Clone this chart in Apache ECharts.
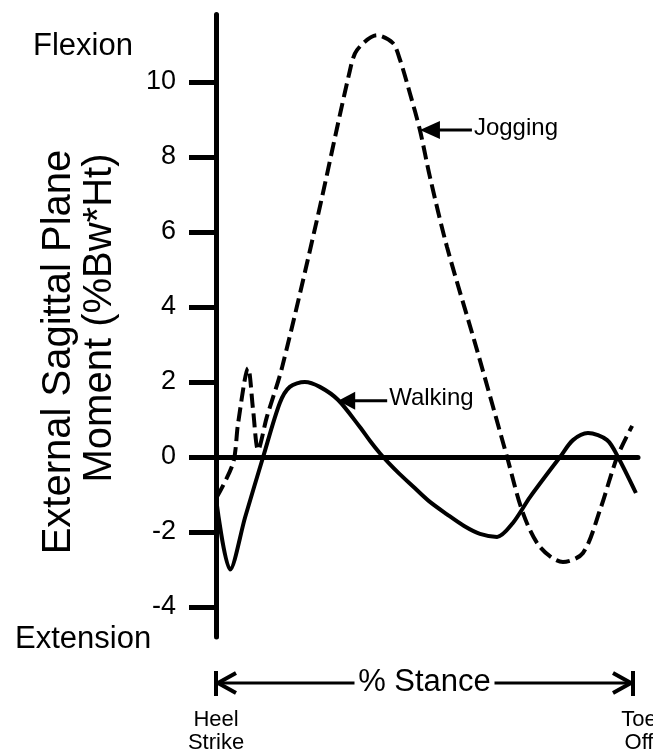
<!DOCTYPE html>
<html><head><meta charset="utf-8">
<script src="https://cdn.jsdelivr.net/npm/echarts@6.0.0/dist/echarts.min.js"></script>
<style>html,body{margin:0;padding:0;background:#fff}#c{width:653px;height:752px}</style>
</head><body><div id="c"></div>
<script>
// % stance (0 = heel strike, 100 = toe off)
const walkStance = [0, 3.4, 7, 11.3, 15.3, 17.7, 21.3, 24.9, 29.3, 34.5, 37, 39.3, 41.5, 44, 47.2, 51, 55.4, 59.5, 63.3, 67.4, 71.2, 75.3, 82.5, 85.6, 89.2, 93.8, 96.4, 100.7];
const walkMoment = [-1.1, -3.0, -1.6, 0, 1.44, 1.87, 2.0, 1.87, 1.52, 0.8, 0.42, 0.1, -0.17, -0.45, -0.78, -1.17, -1.53, -1.84, -2.05, -2.13, -1.76, -1.07, 0, 0.45, 0.64, 0.45, 0, -0.96];
const jogStance = [0.2, 4.1, 5.3, 7.7, 8.9, 10.1, 12.2, 15.8, 24.2, 32.1, 33.8, 38.6, 42.4, 44.1, 46.5, 48.9, 51.3, 55.4, 62.6, 69.8, 73.6, 77.7, 83.2, 88, 92.1, 96.2, 99.8];
const jogMoment = [-1.07, -0.16, 0.9, 2.37, 1.25, 0.19, 1.07, 2.37, 6.32, 10.3, 10.85, 11.25, 11.04, 10.6, 9.7, 8.72, 7.47, 5.6, 2.85, 0, -1.49, -2.4, -2.8, -2.56, -1.41, 0, 0.83];
const yTicks = [-4, -2, 0, 2, 4, 6, 8, 10];
const yTitleLines = ['External Sagittal Plane', 'Moment (%Bw*Ht)'];
const seriesNames = ['Walking', 'Jogging'];
const walkLabelAt = [29.3, 1.5];
const jogLabelAt = [48.9, 8.72];
const xLabels = ['Heel\nStrike', 'Toe\nOff'];
const xName = '% Stance';
const topLabel = 'Flexion';
const bottomLabel = 'Extension';

const FONT = '"Liberation Sans", Arial, Helvetica, sans-serif';
const chart = echarts.init(document.getElementById('c'));
const zip = (a, b) => a.map((v, i) => [v, b[i]]);

chart.setOption({
  animation: false,
  backgroundColor: '#fff',
  grid: {left: 216, top: 14.5, width: 422, height: 622.5, containLabel: false},
  xAxis: {
    type: 'value', min: 0, max: 101.2,
    axisLine: {show: true, onZero: true, lineStyle: {color: '#000', width: 5}},
    axisTick: {show: false}, axisLabel: {show: false}, splitLine: {show: false}
  },
  yAxis: {
    type: 'value', min: -4.8, max: 11.8,
    axisLine: {show: true, onZero: false, lineStyle: {color: '#000', width: 5}},
    axisTick: {show: true, customValues: yTicks, length: 27, lineStyle: {color: '#000', width: 5}},
    axisLabel: {show: true, customValues: yTicks, margin: 40, color: '#000', fontSize: 27, fontFamily: FONT},
    splitLine: {show: false}
  },
  series: [
    {name: seriesNames[0], type: 'line', data: zip(walkStance, walkMoment), showSymbol: false, smooth: 0.3,
     lineStyle: {color: '#000', width: 4}, clip: false, z: 3},
    {name: seriesNames[1], type: 'line', data: zip(jogStance, jogMoment), showSymbol: false, smooth: 0.3,
     lineStyle: {color: '#000', width: 4, type: [14, 6]}, clip: false, z: 3}
  ]
});

function px(x, y) { return chart.convertToPixel({gridIndex: 0}, [x, y]); }
function arrowLabel(at, text, headLen, shaftEnd) {
  const p = px(at[0], at[1]);
  return [
    {type: 'polygon', shape: {points: [[p[0], p[1]], [p[0] + headLen, p[1] - 9], [p[0] + headLen, p[1] + 9]]}, style: {fill: '#000'}, z: 10},
    {type: 'line', shape: {x1: p[0] + headLen - 2, y1: p[1], x2: p[0] + shaftEnd, y2: p[1]}, style: {stroke: '#000', lineWidth: 3}, z: 10},
    {type: 'text', x: p[0] + shaftEnd + 2, y: p[1] - 2, style: {text: text, font: '24px ' + FONT, fill: '#000', textAlign: 'left', textVerticalAlign: 'middle'}, z: 10}
  ];
}
const x0 = px(0, 0)[0], x100 = px(100, 0)[0];
const gBottom = px(0, -4.8)[1];
const ay = gBottom + 46;
const mid = (x0 + x100) / 2;
const g = [];
g.push(...arrowLabel(jogLabelAt, seriesNames[1], 20, 52));
g.push(...arrowLabel(walkLabelAt, seriesNames[0], 17, 49));
// stance arrow
g.push({type: 'line', shape: {x1: x0, y1: ay - 12, x2: x0, y2: ay + 13}, style: {stroke: '#000', lineWidth: 4}});
g.push({type: 'line', shape: {x1: x100, y1: ay - 12, x2: x100, y2: ay + 13}, style: {stroke: '#000', lineWidth: 4}});
g.push({type: 'polyline', shape: {points: [[x0 + 20, ay - 10], [x0 + 2, ay], [x0 + 20, ay + 10]]}, style: {stroke: '#000', lineWidth: 4, fill: null}});
g.push({type: 'polyline', shape: {points: [[x100 - 20, ay - 10], [x100 - 2, ay], [x100 - 20, ay + 10]]}, style: {stroke: '#000', lineWidth: 4, fill: null}});
g.push({type: 'line', shape: {x1: x0, y1: ay, x2: mid - 70, y2: ay}, style: {stroke: '#000', lineWidth: 3}});
g.push({type: 'line', shape: {x1: mid + 70, y1: ay, x2: x100, y2: ay}, style: {stroke: '#000', lineWidth: 3}});
g.push({type: 'text', x: mid, y: ay - 1, style: {text: xName, font: '31px ' + FONT, fill: '#000', textAlign: 'center', textVerticalAlign: 'middle'}});
g.push({type: 'text', x: x0, y: gBottom + 94, style: {text: xLabels[0], font: '22px ' + FONT, lineHeight: 23, fill: '#000', textAlign: 'center', textVerticalAlign: 'middle'}});
g.push({type: 'text', x: x100 + 6, y: gBottom + 94, style: {text: xLabels[1], font: '22px ' + FONT, lineHeight: 23, fill: '#000', textAlign: 'center', textVerticalAlign: 'middle'}});
// flexion / extension
g.push({type: 'text', x: 33, y: 46, style: {text: topLabel, font: '31px ' + FONT, fill: '#000', textAlign: 'left', textVerticalAlign: 'middle'}});
g.push({type: 'text', x: 15, y: 639, style: {text: bottomLabel, font: '31px ' + FONT, fill: '#000', textAlign: 'left', textVerticalAlign: 'middle'}});
// y title
g.push({type: 'text', x: 59, y: 352, rotation: Math.PI / 2, style: {text: yTitleLines[0], font: '40px ' + FONT, fill: '#000', textAlign: 'center', textVerticalAlign: 'middle'}});
g.push({type: 'text', x: 100, y: 318, rotation: Math.PI / 2, style: {text: yTitleLines[1], font: '40px ' + FONT, fill: '#000', textAlign: 'center', textVerticalAlign: 'middle'}});
chart.setOption({graphic: g});
</script>
</body></html>
